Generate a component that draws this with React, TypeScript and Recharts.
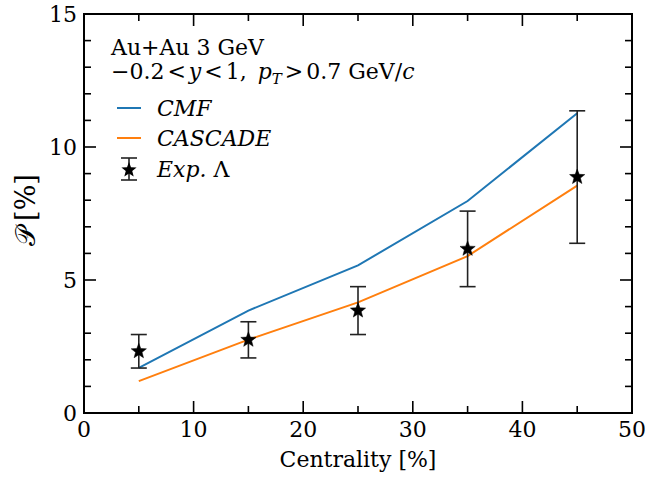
import React from "react";
import {
  ComposedChart,
  Line,
  Scatter,
  ErrorBar,
  XAxis,
  YAxis,
  ReferenceArea,
} from "recharts";

// ---- data ----
const centrality = [5, 15, 25, 35, 45];
const cmf = [1.7, 3.85, 5.55, 7.97, 11.27];
const cascade = [1.2, 2.76, 4.16, 5.9, 8.55];
const expLambda = [2.32, 2.75, 3.85, 6.17, 8.87];
const expErr = [0.63, 0.68, 0.9, 1.42, 2.49];

const xTicks = [0, 5, 10, 15, 20, 25, 30, 35, 40, 45, 50];
const yTicks = [0, 1, 2, 3, 4, 5, 6, 7, 8, 9, 10, 11, 12, 13, 14, 15];
const xMajorStep = 10;
const yMajorStep = 5;

const data = centrality.map((c, i) => ({
  x: c,
  cmf: cmf[i],
  cascade: cascade[i],
  exp: expLambda[i],
  err: expErr[i],
}));

// ---- layout ----
const W = 649;
const H = 479;
const MARGIN = { top: 14, right: 17, bottom: 36, left: 24 };
const Y_AXIS_W = 60;
const X_AXIS_H = 30;
const PLOT_LEFT = MARGIN.left + Y_AXIS_W;
const PLOT_RIGHT = W - MARGIN.right;
const PLOT_TOP = MARGIN.top;
const PLOT_BOTTOM = H - MARGIN.bottom - X_AXIS_H;
const FONT = "DejaVu Serif";
const BLUE = "#1f77b4";
const ORANGE = "#ff7f0e";
const MAJOR_LEN = 12;
const MINOR_LEN = 7;
const TICK_W = 1.6;

const XTick = (props: any) => {
  const { x, y, payload } = props;
  const v = payload.value;
  const major = v % xMajorStep === 0;
  const len = major ? MAJOR_LEN : MINOR_LEN;
  return (
    <g>
      <line x1={x} y1={y} x2={x} y2={y - len} stroke="#000" strokeWidth={TICK_W} />
      <line x1={x} y1={PLOT_TOP} x2={x} y2={PLOT_TOP + len} stroke="#000" strokeWidth={TICK_W} />
      {major && (
        <text x={x} y={y + 24} textAnchor="middle" fontSize={22} fontFamily={FONT} fill="#000">
          {v}
        </text>
      )}
    </g>
  );
};

const YTick = (props: any) => {
  const { x, y, payload } = props;
  const v = payload.value;
  const major = v % yMajorStep === 0;
  const len = major ? MAJOR_LEN : MINOR_LEN;
  return (
    <g>
      <line x1={x} y1={y} x2={x + len} y2={y} stroke="#000" strokeWidth={TICK_W} />
      <line x1={PLOT_RIGHT} y1={y} x2={PLOT_RIGHT - len} y2={y} stroke="#000" strokeWidth={TICK_W} />
      {major && (
        <text x={x - 7} y={y + 8} textAnchor="end" fontSize={22} fontFamily={FONT} fill="#000">
          {v}
        </text>
      )}
    </g>
  );
};

const starPoints = (cx: number, cy: number, R: number, r: number) => {
  const pts: string[] = [];
  for (let i = 0; i < 10; i++) {
    const rad = i % 2 === 0 ? R : r;
    const a = -Math.PI / 2 + (i * Math.PI) / 5;
    pts.push(`${cx + rad * Math.cos(a)},${cy + rad * Math.sin(a)}`);
  }
  return pts.join(" ");
};

const StarShape = (props: any) => {
  const { cx, cy } = props;
  if (cx == null || cy == null) return null;
  return <polygon points={starPoints(cx, cy, 8, 3.4)} fill="#000" stroke="#000" strokeWidth={0.5} />;
};

const XLabel = () => (
  <text
    x={(PLOT_LEFT + PLOT_RIGHT) / 2}
    y={467}
    textAnchor="middle"
    fontSize={22}
    fontFamily={FONT}
    fill="#000"
  >
    Centrality [%]
  </text>
);

const YLabel = () => {
  const cx = 25;
  const cy = 210;
  return (
    <text
      x={cx}
      y={cy}
      transform={`rotate(-90 ${cx} ${cy})`}
      textAnchor="middle"
      dominantBaseline="central"
      fontSize={27}
      fontFamily={FONT}
      fill="#000"
    >
      <tspan>𝒫</tspan>
      <tspan dx={6}>[%]</tspan>
    </text>
  );
};

const Legend = () => (
  <svg
    width={W}
    height={H}
    style={{ position: "absolute", left: 0, top: 0, pointerEvents: "none" }}
  >
    <g fontFamily={FONT} fill="#000" fontSize={22}>
      <text x={111} y={55}>Au+Au 3 GeV</text>
      <text x={111} y={79}>
        <tspan>−0.2</tspan>
        <tspan dx={3}>&lt;</tspan>
        <tspan dx={3} fontStyle="italic">y</tspan>
        <tspan dx={3}>&lt;</tspan>
        <tspan dx={3}>1,</tspan>
        <tspan dx={11} fontStyle="italic">p</tspan>
        <tspan fontStyle="italic" fontSize={15} dy={5}>T</tspan>
        <tspan dx={3} dy={-5}>&gt;</tspan>
        <tspan dx={3}>0.7 GeV/</tspan>
        <tspan fontStyle="italic">c</tspan>
      </text>
      <line x1={117} y1={108} x2={141} y2={108} stroke={BLUE} strokeWidth={2} />
      <text x={157} y={116} fontStyle="italic">CMF</text>
      <line x1={117} y1={138} x2={141} y2={138} stroke={ORANGE} strokeWidth={2} />
      <text x={157} y={146} fontStyle="italic">CASCADE</text>
      <line x1={129} y1={158} x2={129} y2={180} stroke="#222" strokeWidth={1.6} />
      <line x1={121} y1={158} x2={137} y2={158} stroke="#222" strokeWidth={1.6} />
      <line x1={121} y1={180} x2={137} y2={180} stroke="#222" strokeWidth={1.6} />
      <polygon points={starPoints(129, 170, 8, 3.4)} fill="#000" />
      <text x={157} y={177}>
        <tspan fontStyle="italic">Exp.</tspan> Λ
      </text>
    </g>
  </svg>
);

export default function App() {
  return (
    <div style={{ position: "absolute", left: 0, top: 0, width: W, height: H, background: "#fff" }}>
      <ComposedChart width={W} height={H} data={data} margin={MARGIN}>
        <XAxis
          dataKey="x"
          type="number"
          domain={[0, 50]}
          ticks={xTicks}
          interval={0}
          tickSize={0}
          tickMargin={0}
          axisLine={false}
          tickLine={false}
          tick={<XTick />}
          height={X_AXIS_H}
          label={<XLabel />}
        />
        <YAxis
          type="number"
          domain={[0, 15]}
          ticks={yTicks}
          interval={0}
          tickSize={0}
          tickMargin={0}
          axisLine={false}
          tickLine={false}
          tick={<YTick />}
          width={Y_AXIS_W}
          label={<YLabel />}
        />
        <ReferenceArea
          x1={0}
          x2={50}
          y1={0}
          y2={15}
          fill="none"
          fillOpacity={0}
          stroke="#000"
          strokeWidth={2}
          ifOverflow="visible"
        />
        <Line
          type="linear"
          dataKey="cmf"
          stroke={BLUE}
          strokeWidth={2}
          dot={false}
          isAnimationActive={false}
        />
        <Line
          type="linear"
          dataKey="cascade"
          stroke={ORANGE}
          strokeWidth={2}
          dot={false}
          isAnimationActive={false}
        />
        <Scatter dataKey="exp" shape={<StarShape />} isAnimationActive={false}>
          <ErrorBar dataKey="err" direction="y" width={8} stroke="#222" strokeWidth={1.6} isAnimationActive={false} />
        </Scatter>
      </ComposedChart>
      <Legend />
    </div>
  );
}
